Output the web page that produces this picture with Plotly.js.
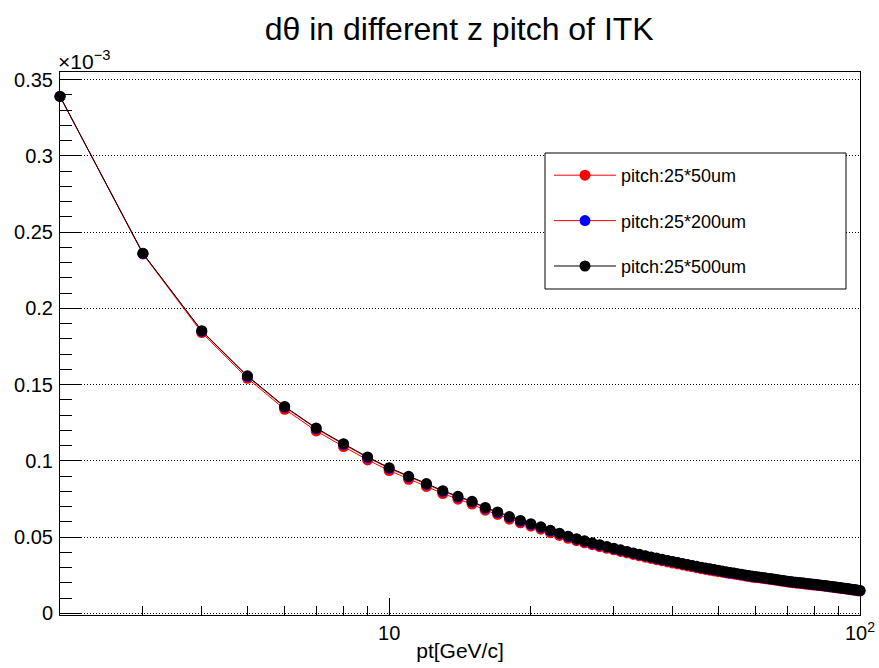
<!DOCTYPE html>
<html>
<head>
<meta charset="utf-8">
<script src="https://cdn.plot.ly/plotly-3.0.1.min.js"></script>
<style>html,body{margin:0;padding:0;background:#fff;}#chart{width:879px;height:668px;}</style>
</head>
<body>
<div id="chart"></div>
<script>
// pt values [GeV/c]
var pt = [2,3,4,5,6,7,8,9,10,11,12,13,14,15,16,17,18,19,20,
  21,22,23,24,25,26,27,28,29,30,31,32,33,34,35,36,37,38,39,40,
  41,42,43,44,45,46,47,48,49,50,51,52,53,54,55,56,57,58,59,60,
  61,62,63,64,65,66,67,68,69,70,71,72,73,74,75,76,77,78,79,80,
  81,82,83,84,85,86,87,88,89,90,91,92,93,94,95,96,97,98,99,100];

// dtheta values in units of 1e-3
var pitch50 = [0.3390,0.2357,0.1842,0.1542,0.1339,0.1197,0.1094,0.1007,0.0937,0.0880,
  0.0833,0.0786,0.0749,0.0717,0.0677,0.0649,0.0618,0.0594,0.0573,0.0553,
  0.0530,0.0512,0.0493,0.0477,0.0463,0.0451,0.0439,0.0427,0.0417,
  0.0407,0.0397,0.0387,0.0378,0.0369,0.0361,0.0353,0.0345,0.0338,0.0331,
  0.0325,0.0318,0.0312,0.0306,0.0300,0.0294,0.0289,0.0284,0.0279,0.0274,
  0.0271,0.0266,0.0262,0.0258,0.0254,0.0250,0.0246,0.0242,0.0238,0.0235,
  0.0234,0.0231,0.0228,0.0225,0.0222,0.0219,0.0216,0.0213,0.0210,0.0207,
  0.0204,0.0202,0.0200,0.0198,0.0196,0.0194,0.0192,0.0190,0.0188,0.0186,
  0.0185,0.0183,0.0181,0.0179,0.0177,0.0175,0.0173,0.0171,0.0169,0.0167,
  0.0165,0.0163,0.0161,0.0159,0.0157,0.0155,0.0153,0.0151,0.0149,0.0147];

var pitch200 = [0.3390,0.2360,0.1851,0.1554,0.1353,0.1212,0.1109,0.1022,0.0952,0.0895,
  0.0848,0.0801,0.0764,0.0731,0.0691,0.0662,0.0631,0.0606,0.0585,0.0565,
  0.0542,0.0523,0.0504,0.0487,0.0473,0.0460,0.0448,0.0436,0.0425,
  0.0415,0.0405,0.0395,0.0386,0.0377,0.0369,0.0361,0.0353,0.0346,0.0339,
  0.0332,0.0325,0.0319,0.0313,0.0307,0.0301,0.0296,0.0291,0.0286,0.0281,
  0.0276,0.0271,0.0267,0.0263,0.0259,0.0255,0.0251,0.0247,0.0243,0.0240,
  0.0238,0.0235,0.0232,0.0229,0.0226,0.0223,0.0220,0.0217,0.0214,0.0211,
  0.0208,0.0206,0.0204,0.0202,0.0200,0.0198,0.0196,0.0194,0.0192,0.0190,
  0.0188,0.0186,0.0184,0.0182,0.0180,0.0178,0.0176,0.0174,0.0172,0.0170,
  0.0168,0.0166,0.0164,0.0162,0.0160,0.0158,0.0156,0.0154,0.0152,0.0150];

var pitch500 = [0.3390,0.2361,0.1854,0.1558,0.1357,0.1216,0.1113,0.1026,0.0956,0.0899,
  0.0852,0.0805,0.0768,0.0735,0.0695,0.0666,0.0635,0.0610,0.0589,0.0568,
  0.0545,0.0526,0.0507,0.0490,0.0476,0.0463,0.0451,0.0439,0.0428,
  0.0417,0.0407,0.0397,0.0388,0.0379,0.0371,0.0363,0.0355,0.0348,0.0341,
  0.0334,0.0327,0.0321,0.0315,0.0309,0.0303,0.0298,0.0293,0.0288,0.0283,
  0.0278,0.0273,0.0269,0.0265,0.0261,0.0257,0.0253,0.0249,0.0245,0.0242,
  0.0239,0.0236,0.0233,0.0230,0.0227,0.0224,0.0221,0.0218,0.0215,0.0212,
  0.0209,0.0207,0.0205,0.0203,0.0201,0.0199,0.0197,0.0195,0.0193,0.0191,
  0.0189,0.0187,0.0185,0.0183,0.0181,0.0179,0.0177,0.0175,0.0173,0.0171,
  0.0169,0.0167,0.0165,0.0163,0.0161,0.0159,0.0157,0.0155,0.0153,0.0151];

var seriesNames = ['pitch:25*50um','pitch:25*200um','pitch:25*500um'];
var xTickVals = [10, 100];
var xTickText = ['10', '10<sup>2</sup>'];
var xMinorVals = [3,4,5,6,7,8,9,20,30,40,50,60,70,80,90];

var FONT = 'Liberation Sans, Arial, Helvetica, sans-serif';

function mk(y, name, lineColor, markerColor, grp) {
  return {
    x: pt, y: y, name: name, type: 'scatter', mode: 'lines+markers',
    line: {color: lineColor, width: 1},
    marker: {color: markerColor, size: 11, symbol: 'circle'},
    cliponaxis: false, legendgroup: grp
  };
}

var data = [
  mk(pitch50, seriesNames[0], '#ff0000', '#ff0000', 'a'),
  mk(pitch200, seriesNames[1], '#ff0000', '#0000ff', 'b'),
  mk(pitch500, seriesNames[2], '#000000', '#000000', 'c')
];

// plot area in pixels: left 60, right 860, top 72, bottom 615
var PW = 800, PH = 543;
function px2x(p) { return (p - 60) / PW; }
function py2y(p) { return (615 - p) / PH; }

var layout = {
  width: 879, height: 668,
  paper_bgcolor: '#ffffff', plot_bgcolor: '#ffffff',
  margin: {l: 60, r: 19, t: 72, b: 53, autoexpand: false},
  font: {family: FONT, color: '#000000', size: 19},
  title: {text: 'd\u03b8 in different z pitch of ITK', font: {family: FONT, size: 32, color: '#000'},
          x: 0.499, xanchor: 'center', xref: 'paper', y: 0.957, yref: 'container', yanchor: 'middle'},
  showlegend: true,
  legend: {x: px2x(549), xref: 'paper', y: py2y(157), yref: 'paper', xanchor: 'left', yanchor: 'top',
           bgcolor: 'rgba(0,0,0,0)', borderwidth: 0,
           font: {family: FONT, size: 18, color: '#000'}, tracegroupgap: 19, itemwidth: 62},
  shapes: [{
    type: 'rect', xref: 'paper', yref: 'paper', layer: 'above',
    x0: px2x(545), x1: px2x(846), y0: py2y(289), y1: py2y(153),
    fillcolor: '#ffffff', line: {color: '#000000', width: 1}
  }],
  xaxis: {
    type: 'log', range: [0.30100, 2.00002],
    tickmode: 'array', tickvals: xTickVals, ticktext: xTickText,
    ticks: 'inside', ticklen: 17, tickwidth: 1, tickcolor: '#000',
    minor: {tickmode: 'array', tickvals: xMinorVals, ticks: 'inside', ticklen: 9, tickwidth: 1, tickcolor: '#000', showgrid: false},
    showgrid: false, zeroline: false,
    showline: true, linecolor: '#000', linewidth: 1, mirror: true,
    tickfont: {family: FONT, size: 20},
    title: {text: 'pt[GeV/c]', font: {family: FONT, size: 21}, standoff: 0}
  },
  yaxis: {
    range: [-0.001, 0.355],
    tickmode: 'linear', tick0: 0, dtick: 0.05,
    ticks: 'inside', ticklen: 22, tickwidth: 1, tickcolor: '#000',
    minor: {dtick: 0.01, ticks: 'inside', ticklen: 12, tickwidth: 1, tickcolor: '#000', showgrid: false},
    showgrid: true, gridcolor: '#000000', gridwidth: 1, griddash: '1px,2px',
    zeroline: false,
    showline: true, linecolor: '#000', linewidth: 1, mirror: true,
    tickfont: {family: FONT, size: 20}, ticklabelstandoff: 2
  },
  annotations: [{
    text: '\u00d710<sup>\u22123</sup>', xref: 'paper', yref: 'paper', x: 0, y: 1,
    xanchor: 'left', yanchor: 'bottom', xshift: -4, yshift: -3, showarrow: false,
    font: {family: FONT, size: 21, color: '#000'}
  }]
};

Plotly.newPlot('chart', data, layout, {displayModeBar: false, staticPlot: true});
</script>
</body>
</html>
